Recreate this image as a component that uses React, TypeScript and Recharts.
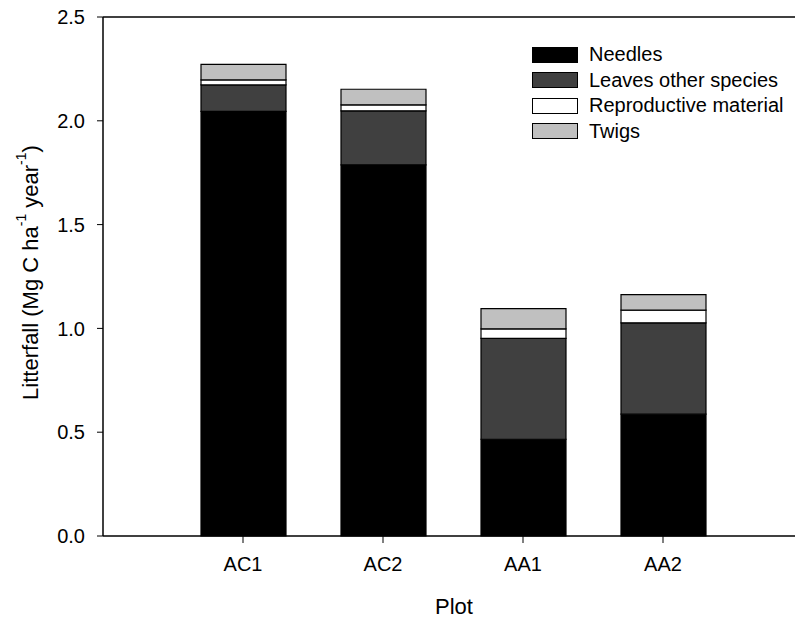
import { BarChart, Bar, XAxis, YAxis, ReferenceLine } from 'recharts';

const plots = ['AC1', 'AC2', 'AA1', 'AA2'];
const needles = [2.045, 1.788, 0.466, 0.587];
const leavesOther = [0.128, 0.26, 0.486, 0.44];
const reproductive = [0.024, 0.029, 0.046, 0.061];
const twigs = [0.075, 0.075, 0.097, 0.075];
const yTicks = [0, 0.5, 1.0, 1.5, 2.0, 2.5];

const series = [
  { key: 'needles', name: 'Needles', fill: '#000000' },
  { key: 'leaves', name: 'Leaves other species', fill: '#404040' },
  { key: 'repro', name: 'Reproductive material', fill: '#ffffff' },
  { key: 'twigs', name: 'Twigs', fill: '#c0c0c0' },
];

const data = plots.map((plot, i) => ({
  plot,
  needles: needles[i],
  leaves: leavesOther[i],
  repro: reproductive[i],
  twigs: twigs[i],
}));

const FONT = '"Liberation Sans", Arial, sans-serif';

function YTitle(props: any) {
  const vb = props.viewBox || {};
  const cx = 30;
  const cy = vb.y + vb.height / 2 - 4;
  return (
    <text
      x={cx}
      y={cy}
      transform={`rotate(-90 ${cx} ${cy})`}
      textAnchor="middle"
      dominantBaseline="central"
      fontSize={22}
      fontFamily={FONT}
      fill="#000"
    >
      Litterfall (Mg C ha
      <tspan dy={-9} fontSize={14}>-1</tspan>
      <tspan dy={9}> year</tspan>
      <tspan dy={-9} fontSize={14}>-1</tspan>
      <tspan dy={9}>)</tspan>
    </text>
  );
}

function XTitle(props: any) {
  const vb = props.viewBox || {};
  return (
    <text x={454} y={vb.y + 70} textAnchor="middle" dominantBaseline="central" fontSize={22} fontFamily={FONT} fill="#000">
      Plot
    </text>
  );
}

// legend box drawn over the top-right corner of the plot
function LegendBox() {
  return (
    <div style={{ position: 'absolute', left: 532, top: 42, fontFamily: FONT, fontSize: 20, color: '#000' }}>
      {series.map(s => (
        <div key={s.key} style={{ display: 'flex', alignItems: 'center', height: 25.5 }}>
          <div style={{ width: 44, height: 14, background: s.fill, border: '1px solid #000', marginRight: 11 }} />
          <span>{s.name}</span>
        </div>
      ))}
    </div>
  );
}

export default function App() {
  return (
    <div style={{ position: 'absolute', left: 0, top: 0, width: 795, height: 624, overflow: 'hidden', background: '#fff' }}>
      <BarChart width={830} height={624} data={data} margin={{ top: 17, right: 27, bottom: 58, left: 43 }}>
        <XAxis
          dataKey="plot"
          height={30}
          padding={{ left: 70, right: 70 }}
          axisLine={{ stroke: '#000', strokeWidth: 1.5 }}
          tickLine={{ stroke: '#000' }}
          tickSize={7}
          tickMargin={14}
          tick={{ fill: '#000', fontSize: 20, fontFamily: FONT }}
          label={<XTitle />}
        />
        <YAxis
          width={60}
          domain={[0, 2.5]}
          ticks={yTicks}
          interval={0}
          tickFormatter={(v: number) => v.toFixed(1)}
          axisLine={{ stroke: '#000', strokeWidth: 1.5 }}
          tickLine={{ stroke: '#000' }}
          tickSize={6}
          tickMargin={12}
          tick={{ fill: '#000', fontSize: 20, fontFamily: FONT }}
          label={<YTitle />}
        />
        <ReferenceLine y={2.5} stroke="#000" strokeWidth={1.5} />
        {series.map(s => (
          <Bar
            key={s.key}
            dataKey={s.key}
            name={s.name}
            stackId="litter"
            fill={s.fill}
            stroke="#000"
            strokeWidth={1.2}
            barSize={85}
            isAnimationActive={false}
          />
        ))}
      </BarChart>
      <LegendBox />
    </div>
  );
}
